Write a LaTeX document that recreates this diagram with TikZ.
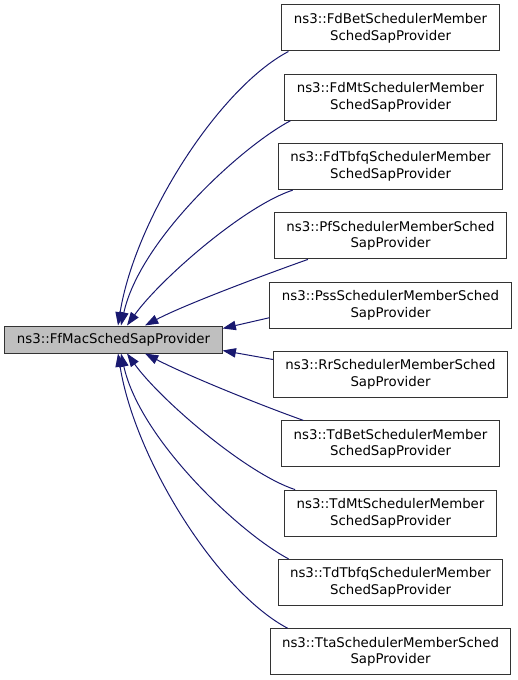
\documentclass[tikz,border=0pt]{standalone}
\usepackage{fontspec}
\setmainfont{DejaVu Sans}
\usepackage{tikz}
\usetikzlibrary{arrows.meta, positioning, calc}
\definecolor{EdgeColor}{RGB}{25,25,112}
\definecolor{BaseFill}{RGB}{191,191,191}

\begin{document}
\begin{tikzpicture}[
            x=0.75pt, y=-0.75pt,
            box/.style={draw=black!80, line width=0.75pt, fill=white, align=center, minimum height=34.5pt, inner xsep=9pt, inner ysep=0pt, font=\fontsize{10}{12.5}\selectfont},
            base/.style={box, fill=BaseFill, minimum height=20.25pt},
            arrow/.style={-{Triangle[length=10pt, width=7pt]}, EdgeColor, line width=0.75pt}
        ]
            \useasboundingbox (0,0) rectangle (517,680);

            \node[base] (provider) at (113.5,339.5) {ns3::FfMacSchedSapProvider};

            \node[box] (fdbet) at (390.5,28) {ns3::FdBetSchedulerMember\\SchedSapProvider};
            \node[box] (fdmt) at (390.5,97.3) {ns3::FdMtSchedulerMember\\SchedSapProvider};
            \node[box] (fdtbfq) at (390.5,166.6) {ns3::FdTbfqSchedulerMember\\SchedSapProvider};
            \node[box] (pf) at (390.5,235.9) {ns3::PfSchedulerMemberSched\\SapProvider};
            \node[box] (pss) at (390.5,305.2) {ns3::PssSchedulerMemberSched\\SapProvider};
            \node[box] (rr) at (390.5,374.5) {ns3::RrSchedulerMemberSched\\SapProvider};
            \node[box] (tdbet) at (390.5,443.8) {ns3::TdBetSchedulerMember\\SchedSapProvider};
            \node[box] (tdmt) at (390.5,513.1) {ns3::TdMtSchedulerMember\\SchedSapProvider};
            \node[box] (tdtbfq) at (390.5,582.4) {ns3::TdTbfqSchedulerMember\\SchedSapProvider};
            \node[box] (tta) at (390.5,651.7) {ns3::TtaSchedulerMemberSched\\SapProvider};

            \draw[arrow] ($(fdbet.south west)+(7,0)$) .. controls +(-70,37) and +(17,-106) .. ($(provider.north)+(4.5,0)$);
            \draw[arrow] ($(fdmt.south west)+(6,0)$) .. controls +(-49,26) and +(19,-86) .. ($(provider.north)+(7.5,0)$);
            \draw[arrow] ($(fdtbfq.south west)+(15,0)$) .. controls +(-49,16) and +(33,-46) .. ($(provider.north)+(13.5,0)$);
            \draw[arrow] ($(pf.south west)+(34,0)$) .. controls +(-45,16) and +(40,-21) .. ($(provider.north)+(31.5,0)$);
            \draw[arrow] ($(pss.west)+(0,12.5)$) -- ($(provider.east)+(0,-11)$);
            \draw[arrow] ($(rr.west)+(0,-15)$) -- ($(provider.east)+(0,11)$);
            \draw[arrow] ($(tdbet.north west)+(22,0)$) .. controls +(-45,-16) and +(40,21) .. ($(provider.south)+(31.5,0)$);
            \draw[arrow] ($(tdmt.north west)+(11,0)$) .. controls +(-49,-16) and +(33,46) .. ($(provider.south)+(13.5,0)$);
            \draw[arrow] ($(tdtbfq.north west)+(11,0)$) .. controls +(-49,-26) and +(19,86) .. ($(provider.south)+(7.5,0)$);
            \draw[arrow] ($(tta.north west)+(18,0)$) .. controls +(-70,-37) and +(17,106) .. ($(provider.south)+(4.5,0)$);
        \end{tikzpicture}
\end{document}
